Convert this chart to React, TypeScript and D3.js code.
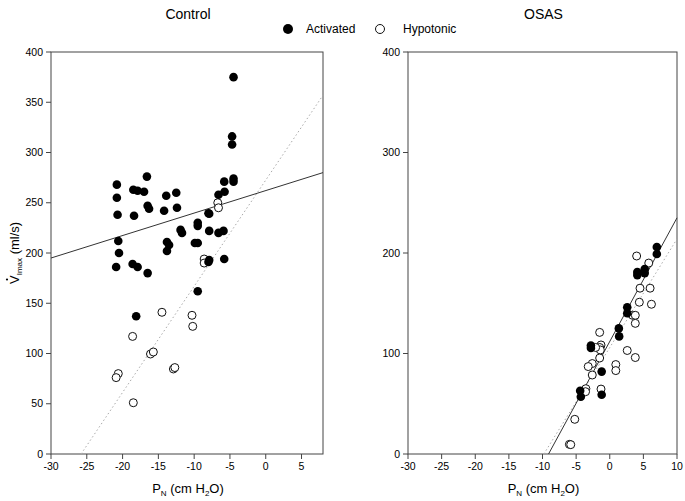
import React from "react";
import * as d3 from "d3";

const controlActivated: [number, number][] = [
  [-4.5, 375], [-4.7, 316], [-4.7, 308], [-4.5, 274], [-4.5, 271], [-5.8, 271], [-5.75, 261], [-6.6, 258],
  [-20.8, 268], [-20.8, 255], [-20.7, 238], [-20.6, 212], [-20.5, 200], [-18.5, 263], [-17.9, 262], [-17.0, 261],
  [-18.4, 237], [-16.6, 276], [-16.5, 247], [-16.3, 244], [-14.2, 242], [-13.9, 257], [-12.5, 260], [-12.4, 245],
  [-11.9, 223], [-11.7, 220], [-13.8, 211], [-13.5, 208], [-13.8, 202], [-9.5, 230], [-9.5, 227], [-9.9, 210],
  [-9.5, 210], [-8.0, 239.5], [-7.9, 239], [-7.9, 222], [-6.6, 220], [-5.9, 222], [-20.9, 186], [-18.6, 189],
  [-17.9, 186], [-16.5, 180], [-18.1, 137], [-9.5, 162], [-7.9, 193], [-8.0, 191], [-5.8, 194],
];
const controlHypotonic: [number, number][] = [
  [-6.7, 250], [-6.6, 245], [-8.6, 194], [-8.6, 190], [-14.5, 141], [-10.3, 138], [-10.2, 127], [-18.6, 117],
  [-16.1, 99.5], [-15.7, 101.5], [-12.9, 84.6], [-12.7, 86], [-20.6, 80], [-20.9, 76], [-18.5, 51],
];
const osasActivated: [number, number][] = [
  [7.0, 206], [7.0, 199], [5.2, 184], [5.2, 180], [4.1, 181], [4.1, 178], [2.6, 146], [2.6, 140],
  [1.35, 125], [1.4, 117], [-2.8, 108], [-2.8, 105.5], [-1.2, 82], [-1.2, 59], [-4.4, 63], [-4.3, 57],
];
const osasHypotonic: [number, number][] = [
  [4.0, 197], [5.8, 190], [4.5, 165], [6.0, 165], [4.4, 151], [6.2, 149], [3.4, 138], [3.8, 138],
  [3.8, 130], [2.6, 103], [3.8, 96], [0.9, 89], [0.9, 83], [-1.5, 121], [-1.3, 108.5], [-1.5, 106],
  [-1.4, 103.5], [-1.5, 95.5], [-2.1, 106], [-2.6, 90], [-3.2, 87], [-2.6, 78.6], [-3.55, 65], [-3.6, 62],
  [-1.3, 64.6], [-5.2, 34.5], [-6.0, 9.6], [-5.8, 9.3],
];
const controlActivatedFit: [number, number][] = [[-30, 195], [8, 280]];
const controlHypotonicFit: [number, number][] = [[-25.8, 0], [8, 357]];
const osasActivatedFit: [number, number][] = [[-9.1, 0], [10, 235]];
const osasHypotonicFit: [number, number][] = [[-9.8, 0], [10, 214]];

const controlXTicks = [-30, -25, -20, -15, -10, -5, 0, 5];
const controlYTicks = [0, 50, 100, 150, 200, 250, 300, 350, 400];
const osasXTicks = [-30, -25, -20, -15, -10, -5, 0, 5, 10];
const osasYTicks = [0, 100, 200, 300, 400];

const FONT = "Liberation Sans, Arial, sans-serif";

type PanelProps = {
  title: string;
  xDomain: [number, number];
  xRange: [number, number];
  xTicks: number[];
  yTicks: number[];
  act: [number, number][];
  hyp: [number, number][];
  fitSolid: [number, number][];
  fitDotted: [number, number][];
};

function Panel(p: PanelProps) {
  const x = d3.scaleLinear().domain(p.xDomain).range(p.xRange);
  const y = d3.scaleLinear().domain([0, 400]).range([454, 52]);
  const line = d3.line<[number, number]>().x((d) => x(d[0])).y((d) => y(d[1]));
  const [x0, x1] = p.xRange;
  const cx = (x0 + x1) / 2 + 1;
  return (
    <g>
      <text x={cx} y={19} textAnchor="middle" fontSize={14} fontFamily={FONT}>{p.title}</text>
      <rect x={x0} y={y(400)} width={x1 - x0} height={y(0) - y(400)} fill="none" stroke="#444" strokeWidth={1} />
      {p.yTicks.map((t) => (
        <g key={"y" + t}>
          <line x1={x0 - 5} x2={x0} y1={y(t)} y2={y(t)} stroke="#444" />
          <text x={x0 - 8} y={y(t)} dy="0.35em" textAnchor="end" fontSize={10.5} fontFamily={FONT}>{t}</text>
        </g>
      ))}
      {p.xTicks.map((t) => (
        <g key={"x" + t}>
          <line x1={x(t)} x2={x(t)} y1={454} y2={459} stroke="#444" />
          <text x={x(t)} y={470} textAnchor="middle" fontSize={10.5} fontFamily={FONT}>{t}</text>
        </g>
      ))}
      <text x={cx} y={493} textAnchor="middle" fontSize={13} fontFamily={FONT}>
        P<tspan fontSize={8} dy={3}>N</tspan><tspan dy={-3}> (cm H</tspan><tspan fontSize={8} dy={3}>2</tspan><tspan dy={-3}>O)</tspan>
      </text>
      <path d={line(p.fitDotted) || ""} fill="none" stroke="#aaa" strokeWidth={1} strokeDasharray="1.5,2.5" />
      <path d={line(p.fitSolid) || ""} fill="none" stroke="#333" strokeWidth={1} />
      {p.hyp.map((d, i) => (
        <circle key={"h" + i} cx={x(d[0])} cy={y(d[1])} r={4} fill="white" stroke="#111" strokeWidth={1} />
      ))}
      {p.act.map((d, i) => (
        <circle key={"a" + i} cx={x(d[0])} cy={y(d[1])} r={4.3} fill="#000" />
      ))}
    </g>
  );
}

export default function App() {
  return (
    <svg width={685} height={501} style={{ position: "absolute", left: 0, top: 0, background: "white" }}>
      <rect width={685} height={501} fill="white" />
      <Panel title="Control" xDomain={[-30, 8]} xRange={[51, 323]} xTicks={controlXTicks} yTicks={controlYTicks}
        act={controlActivated} hyp={controlHypotonic} fitSolid={controlActivatedFit} fitDotted={controlHypotonicFit} />
      <Panel title="OSAS" xDomain={[-30, 10]} xRange={[408, 677]} xTicks={osasXTicks} yTicks={osasYTicks}
        act={osasActivated} hyp={osasHypotonic} fitSolid={osasActivatedFit} fitDotted={osasHypotonicFit} />
      <circle cx={288} cy={29} r={5} fill="#000" />
      <text x={306} y={33} fontSize={12} fontFamily={FONT}>Activated</text>
      <circle cx={380} cy={29} r={4.5} fill="white" stroke="#111" />
      <text x={403} y={33} fontSize={12} fontFamily={FONT}>Hypotonic</text>
      <g transform="translate(19,284) rotate(-90)">
        <text x={0} y={0} fontSize={13} fontFamily={FONT}>
          V<tspan fontSize={8} dy={3}>Imax</tspan><tspan dy={-3}> (ml/s)</tspan>
        </text>
        <circle cx={4.5} cy={-12} r={1.1} fill="#000" />
      </g>
    </svg>
  );
}
